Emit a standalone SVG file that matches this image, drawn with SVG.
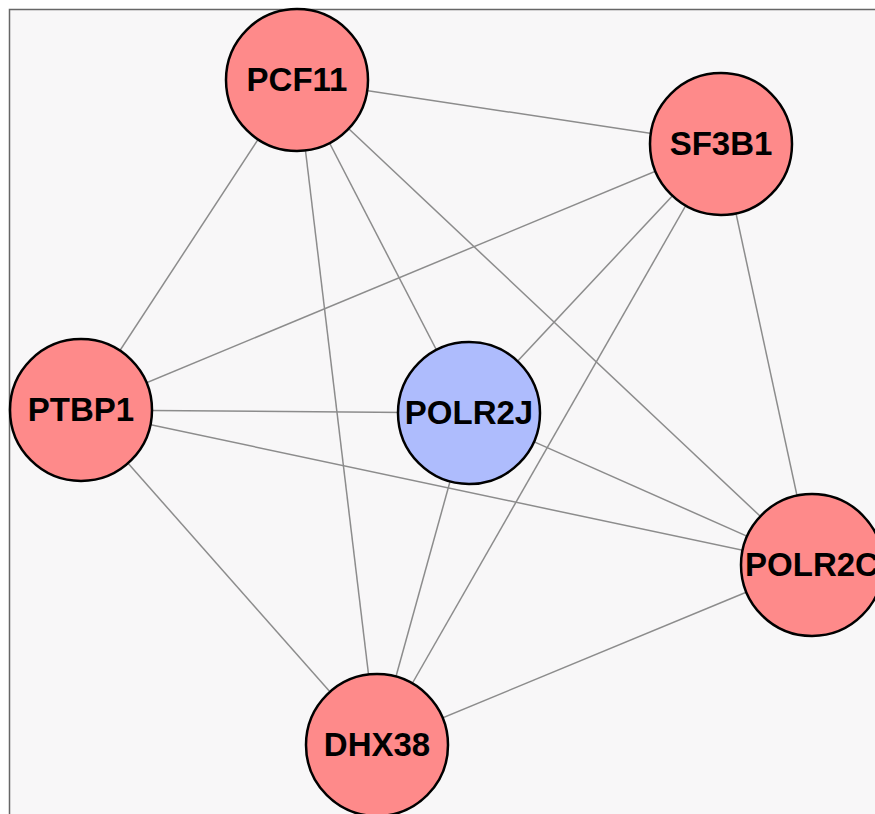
<svg xmlns="http://www.w3.org/2000/svg" width="875" height="814" viewBox="0 0 875 814">
<style>
.edge{stroke:#8c8c8c;stroke-width:1.5;fill:none}
.node circle{stroke:#000;stroke-width:2.5}
.red circle{fill:#fe8a8a}
.blue circle{fill:#aebcfd}
.node text{font-family:"Liberation Sans",Arial,sans-serif;font-weight:bold;font-size:33px;text-anchor:middle;fill:#000}
</style>
<rect x="0" y="0" width="875" height="814" fill="#ffffff"/>
<rect x="9.5" y="9.5" width="880" height="820" fill="#f8f7f8" stroke="#666" stroke-width="1.5"/>
<g id="edges">
<line class="edge" x1="297" y1="80" x2="721" y2="144"/>
<line class="edge" x1="297" y1="80" x2="81" y2="410"/>
<line class="edge" x1="297" y1="80" x2="377" y2="745"/>
<line class="edge" x1="297" y1="80" x2="469" y2="413"/>
<line class="edge" x1="297" y1="80" x2="812" y2="565"/>
<line class="edge" x1="721" y1="144" x2="81" y2="410"/>
<line class="edge" x1="721" y1="144" x2="469" y2="413"/>
<line class="edge" x1="721" y1="144" x2="377" y2="745"/>
<line class="edge" x1="721" y1="144" x2="812" y2="565"/>
<line class="edge" x1="81" y1="410" x2="469" y2="413"/>
<line class="edge" x1="81" y1="410" x2="812" y2="565"/>
<line class="edge" x1="81" y1="410" x2="377" y2="745"/>
<line class="edge" x1="469" y1="413" x2="377" y2="745"/>
<line class="edge" x1="469" y1="413" x2="812" y2="565"/>
<line class="edge" x1="812" y1="565" x2="377" y2="745"/>
</g>
<g id="PCF11" class="node red"><circle cx="297" cy="80" r="71"/><text x="297" y="91">PCF11</text></g>
<g id="SF3B1" class="node red"><circle cx="721" cy="144" r="71"/><text x="721" y="155">SF3B1</text></g>
<g id="PTBP1" class="node red"><circle cx="81" cy="410" r="71"/><text x="81" y="421">PTBP1</text></g>
<g id="POLR2J" class="node blue"><circle cx="469" cy="413" r="71"/><text x="469" y="424">POLR2J</text></g>
<g id="POLR2C" class="node red"><circle cx="812" cy="565" r="71"/><text x="812" y="576">POLR2C</text></g>
<g id="DHX38" class="node red"><circle cx="377" cy="745" r="71"/><text x="377" y="756">DHX38</text></g>
</svg>
